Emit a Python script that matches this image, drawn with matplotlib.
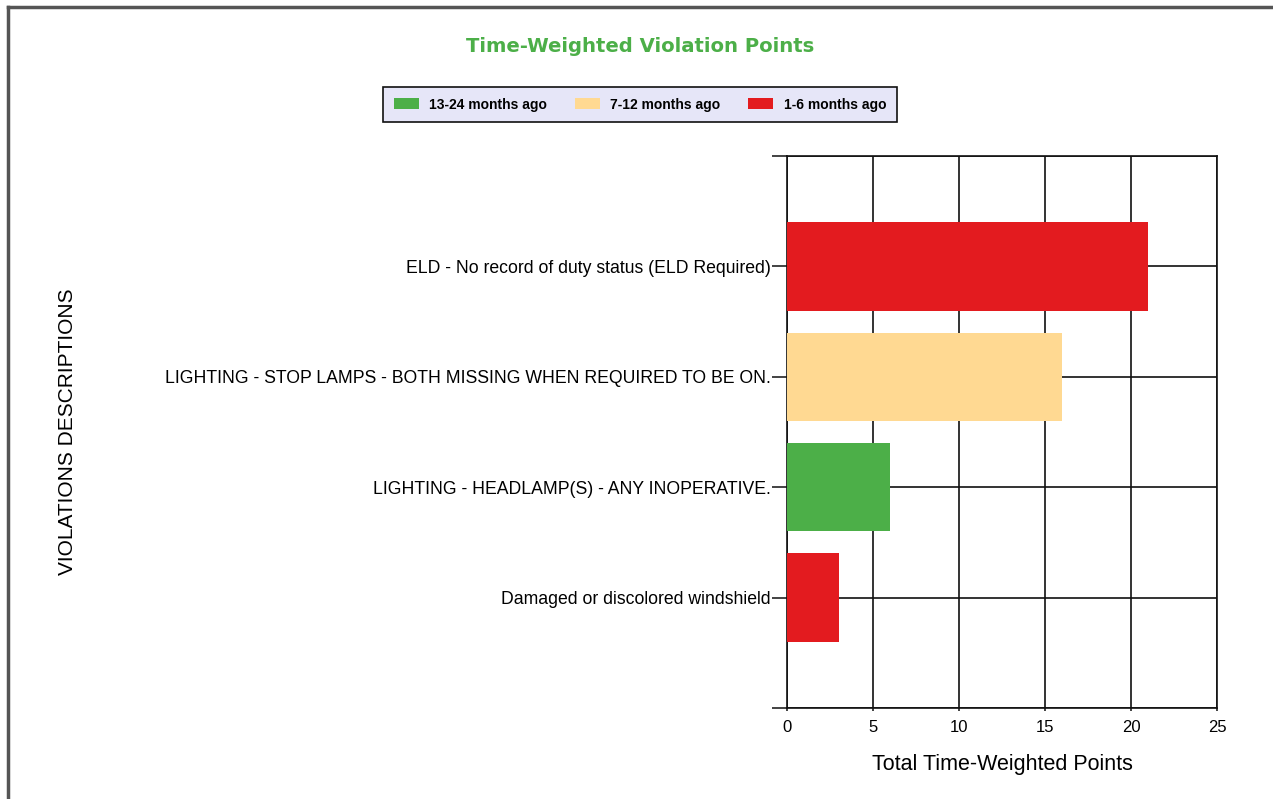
import matplotlib
matplotlib.use("Agg")
import matplotlib.pyplot as plt
from matplotlib.lines import Line2D
from matplotlib.patches import Patch

categories = [
    "ELD - No record of duty status (ELD Required)",
    "LIGHTING - STOP LAMPS - BOTH MISSING WHEN REQUIRED TO BE ON.",
    "LIGHTING - HEADLAMP(S) - ANY INOPERATIVE.",
    "Damaged or discolored windshield",
]
series_names = ["13-24 months ago", "7-12 months ago", "1-6 months ago"]
old_13_24 = [0, 0, 6, 0]
mid_7_12 = [0, 16, 0, 0]
recent_1_6 = [21, 0, 0, 3]
x_ticks = [0, 5, 10, 15, 20, 25]

colors = ["#4CAF48", "#FFD992", "#E31B1F"]

fig = plt.figure(figsize=(12.73, 7.99), dpi=100)
W, H = 1273, 799
ax = fig.add_axes([787 / W, 1 - 708 / H, 430 / W, 552 / H])

ypos = list(range(len(categories)))
left = [0] * len(categories)
for vals, c, name in zip([old_13_24, mid_7_12, recent_1_6], colors, series_names):
    ax.barh(ypos, vals, left=left, height=0.8, color=c, zorder=3, label=name)
    left = [l + v for l, v in zip(left, vals)]

ax.set_xlim(0, 25)
ax.set_ylim(4, -1)
ax.set_xticks(x_ticks)
ax.set_xticklabels([str(t) for t in x_ticks], fontfamily="Liberation Sans", fontsize=12)
ax.set_yticks([-1] + ypos + [4])
ax.set_yticklabels([""] + categories + [""], fontfamily="Liberation Sans", fontsize=12.7)
ax.tick_params(axis="y", length=10.5, width=1.2, color="#222222", pad=1)
ax.tick_params(axis="x", length=2.5, width=1.2, color="#222222", pad=6)
ax.grid(True, color="#111111", linewidth=1.2, zorder=0)
ax.set_axisbelow(True)
for s in ax.spines.values():
    s.set_color("#111111")
    s.set_linewidth(1.2)

ax.set_xlabel("Total Time-Weighted Points", fontfamily="Liberation Sans", fontsize=15.5, labelpad=14)
fig.text(68 / W, 1 - 432 / H, "VIOLATIONS DESCRIPTIONS", rotation=90, ha="center", va="center",
         fontfamily="Liberation Sans", fontsize=15)

fig.text(640 / W, 1 - 47 / H, "Time-Weighted Violation Points", ha="center", va="center",
         fontfamily="DejaVu Sans", fontweight="bold", fontsize=14.1, color="#4CAF48")

handles = [Patch(facecolor=c, edgecolor="none") for c in colors]
leg = fig.legend(handles, series_names, loc="center", bbox_to_anchor=(640 / W, 1 - 104.5 / H),
                 ncol=3, frameon=True, fancybox=False,
                 prop={"family": "Liberation Sans", "weight": "bold", "size": 10},
                 handlelength=1.8, handleheight=0.9, columnspacing=2.0, handletextpad=0.75,
                 borderpad=0.75, edgecolor="#111111", facecolor="#E6E6F8")
leg.get_frame().set_linewidth(1.2)
leg.get_frame().set_alpha(1)

fig.add_artist(Line2D([8 / W, 1], [1 - 7 / H, 1 - 7 / H], color="#555555", linewidth=2.5))
fig.add_artist(Line2D([8 / W, 8 / W], [0, 1 - 7 / H], color="#555555", linewidth=2.5))

fig.savefig("out.png", dpi=100)
